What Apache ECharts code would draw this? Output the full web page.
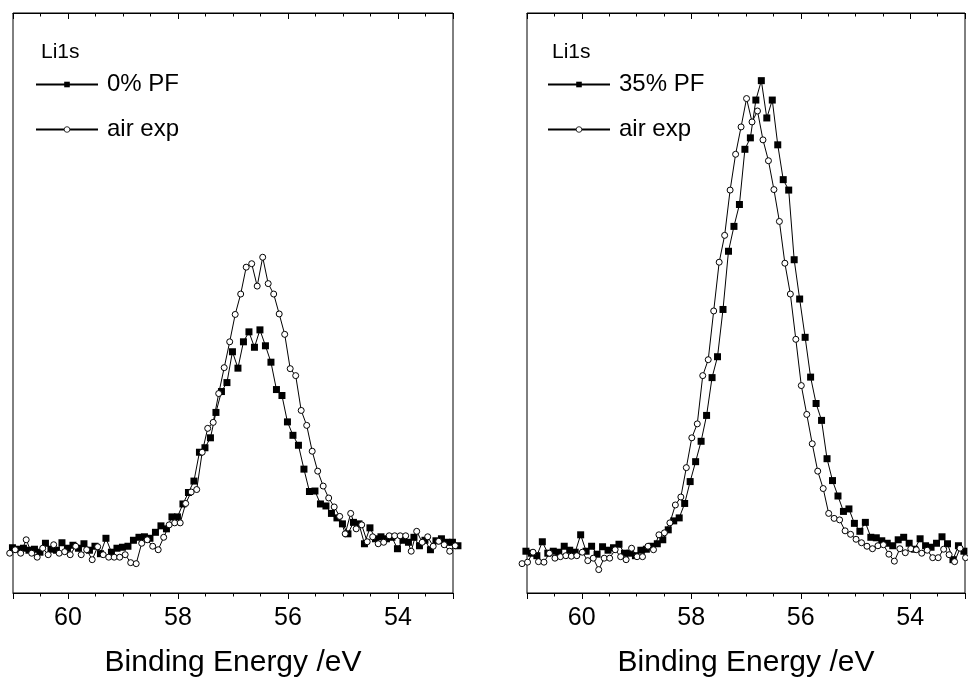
<!DOCTYPE html>
<html>
<head>
<meta charset="utf-8">
<script src="https://cdn.jsdelivr.net/npm/echarts@6/dist/echarts.min.js"></script>
<style>
  html, body { margin: 0; background: #fff; }
  #chart { width: 968px; height: 683px; }
</style>
</head>
<body>
<div id="chart"></div>
<script>
// Li1s spectra, binding energy (eV) vs intensity (a.u.)
var energyPF0 = [61.01, 60.91, 60.81, 60.71, 60.61, 60.51, 60.41, 60.31, 60.21, 60.11,
  60.01, 59.91, 59.81, 59.71, 59.61, 59.51, 59.41, 59.31, 59.21, 59.11,
  59.01, 58.91, 58.81, 58.71, 58.61, 58.51, 58.41, 58.31, 58.21, 58.11,
  58.01, 57.91, 57.81, 57.71, 57.61, 57.51, 57.41, 57.31, 57.21, 57.11,
  57.01, 56.91, 56.81, 56.71, 56.61, 56.51, 56.41, 56.31, 56.21, 56.11,
  56.01, 55.91, 55.81, 55.71, 55.61, 55.51, 55.41, 55.31, 55.21, 55.11,
  55.01, 54.91, 54.81, 54.71, 54.61, 54.51, 54.41, 54.31, 54.21, 54.11,
  54.01, 53.91, 53.81, 53.71, 53.61, 53.51, 53.41, 53.31, 53.21, 53.11,
  53.01, 52.91];
var intPF0 = [9.1, 8.8, 9.0, 8.6, 8.8, 8.2, 10.0, 8.8, 8.6, 10.1,
  9.0, 9.6, 9.0, 9.9, 8.6, 9.4, 7.9, 11.0, 8.2, 9.0,
  9.2, 9.4, 10.6, 11.2, 11.3, 11.0, 12.2, 13.5, 12.9, 15.3,
  15.3, 17.9, 20.2, 22.5, 28.3, 29.2, 31.2, 36.3, 40.5, 42.3,
  48.5, 45.2, 50.5, 52.5, 49.4, 52.9, 49.7, 46.4, 40.9, 39.7,
  34.4, 31.7, 29.7, 24.9, 20.4, 20.5, 17.9, 17.5, 16.0, 15.1,
  13.9, 11.9, 14.2, 13.9, 9.9, 13.1, 10.9, 11.3, 10.9, 11.2,
  8.9, 10.6, 10.2, 11.2, 9.5, 10.6, 8.7, 10.5, 10.9, 10.2,
  10.2, 9.5];

var energyAir0 = [61.06, 60.96, 60.86, 60.76, 60.66, 60.56, 60.46, 60.36, 60.26, 60.16,
  60.06, 59.96, 59.86, 59.76, 59.66, 59.56, 59.46, 59.36, 59.26, 59.16,
  59.06, 58.96, 58.86, 58.76, 58.66, 58.56, 58.46, 58.36, 58.26, 58.16,
  58.06, 57.96, 57.86, 57.76, 57.66, 57.56, 57.46, 57.36, 57.26, 57.16,
  57.06, 56.96, 56.86, 56.76, 56.66, 56.56, 56.46, 56.36, 56.26, 56.16,
  56.06, 55.96, 55.86, 55.76, 55.66, 55.56, 55.46, 55.36, 55.26, 55.16,
  55.06, 54.96, 54.86, 54.76, 54.66, 54.56, 54.46, 54.36, 54.26, 54.16,
  54.06, 53.96, 53.86, 53.76, 53.66, 53.56, 53.46, 53.36, 53.26, 53.16,
  53.06, 52.96];
var intAir0 = [8.0, 8.7, 8.0, 10.7, 8.0, 7.2, 9.0, 7.7, 9.7, 8.0,
  8.3, 7.7, 9.4, 7.7, 8.7, 6.7, 9.3, 7.7, 7.2, 7.2,
  7.2, 7.7, 6.1, 5.9, 10.0, 10.7, 9.4, 8.7, 11.2, 13.7,
  14.1, 14.1, 18.0, 20.3, 20.8, 28.3, 33.1, 34.3, 40.1, 45.3,
  50.5, 56.0, 60.1, 65.5, 66.2, 61.7, 67.5, 62.2, 60.1, 56.1,
  52.0, 45.1, 43.7, 36.7, 33.7, 28.5, 24.5, 21.5, 19.1, 17.3,
  15.4, 11.9, 16.0, 12.9, 13.7, 10.3, 11.3, 9.9, 10.2, 11.5,
  11.5, 11.5, 11.5, 8.4, 12.4, 10.2, 11.3, 9.4, 10.4, 9.7,
  8.4, 9.5];

var energyPF35 = [61.02, 60.92, 60.82, 60.72, 60.62, 60.52, 60.42, 60.32, 60.22, 60.12,
  60.02, 59.92, 59.82, 59.72, 59.62, 59.52, 59.42, 59.32, 59.22, 59.12,
  59.02, 58.92, 58.82, 58.72, 58.62, 58.52, 58.42, 58.32, 58.22, 58.12,
  58.02, 57.92, 57.82, 57.72, 57.62, 57.52, 57.42, 57.32, 57.22, 57.12,
  57.02, 56.92, 56.82, 56.72, 56.62, 56.52, 56.42, 56.32, 56.22, 56.12,
  56.02, 55.92, 55.82, 55.72, 55.62, 55.52, 55.42, 55.32, 55.22, 55.12,
  55.02, 54.92, 54.82, 54.72, 54.62, 54.52, 54.42, 54.32, 54.22, 54.12,
  54.02, 53.92, 53.82, 53.72, 53.62, 53.52, 53.42, 53.32, 53.22, 53.12,
  53.02];
var intPF35 = [8.4, 8.0, 7.5, 10.3, 8.0, 8.4, 8.2, 9.4, 8.6, 8.2,
  11.7, 8.4, 9.4, 7.8, 9.3, 8.6, 9.1, 9.8, 8.0, 8.0,
  7.5, 8.6, 8.8, 9.4, 9.9, 10.7, 12.7, 14.5, 15.1, 18.0,
  22.4, 26.4, 30.5, 35.7, 43.3, 47.5, 57.0, 68.7, 73.7, 78.1,
  89.2, 91.5, 99.1, 103.0, 95.5, 99.1, 90.1, 83.1, 81.0, 67.0,
  59.1, 51.4, 43.4, 38.1, 34.7, 27.0, 22.6, 19.5, 16.4, 16.9,
  14.0, 12.4, 14.2, 11.2, 11.1, 10.5, 10.0, 9.5, 10.7, 11.2,
  10.0, 8.8, 10.9, 9.5, 9.2, 10.0, 11.3, 9.9, 6.7, 9.5,
  8.4];

var energyAir35 = [61.09, 60.99, 60.89, 60.79, 60.69, 60.59, 60.49, 60.39, 60.29, 60.19,
  60.09, 59.99, 59.89, 59.79, 59.69, 59.59, 59.49, 59.39, 59.29, 59.19,
  59.09, 58.99, 58.89, 58.79, 58.69, 58.59, 58.49, 58.39, 58.29, 58.19,
  58.09, 57.99, 57.89, 57.79, 57.69, 57.59, 57.49, 57.39, 57.29, 57.19,
  57.09, 56.99, 56.89, 56.79, 56.69, 56.59, 56.49, 56.39, 56.29, 56.19,
  56.09, 55.99, 55.89, 55.79, 55.69, 55.59, 55.49, 55.39, 55.29, 55.19,
  55.09, 54.99, 54.89, 54.79, 54.69, 54.59, 54.49, 54.39, 54.29, 54.19,
  54.09, 53.99, 53.89, 53.79, 53.69, 53.59, 53.49, 53.39, 53.29, 53.19,
  53.09, 52.99];
var intAir35 = [5.9, 6.2, 8.2, 6.3, 6.2, 8.0, 7.0, 7.3, 7.5, 7.4,
  7.5, 8.2, 6.5, 7.0, 4.7, 7.0, 7.0, 8.7, 7.3, 6.7,
  9.0, 7.3, 7.3, 9.4, 8.7, 11.7, 12.1, 14.1, 17.7, 19.3,
  25.2, 31.2, 34.0, 43.7, 46.9, 56.7, 66.5, 71.9, 81.0, 88.2,
  93.7, 99.4, 94.7, 96.9, 91.1, 86.9, 81.1, 74.7, 66.3, 60.1,
  51.0, 41.7, 35.9, 30.0, 24.5, 21.0, 16.0, 15.0, 14.7, 12.5,
  11.8, 10.8, 10.1, 9.4, 8.9, 9.5, 9.7, 7.8, 6.4, 8.9,
  8.1, 8.9, 8.7, 8.0, 8.6, 7.1, 7.1, 8.8, 7.7, 6.3,
  9.0, 7.1];

var font = "'Liberation Sans', Arial, sans-serif";

function pairs(xs, ys) {
  return xs.map(function (x, i) { return [x, ys[i]]; });
}

function xAxisFor(gridIndex, top) {
  return {
    type: 'value', gridIndex: gridIndex, position: top ? 'top' : 'bottom',
    min: 53, max: 61, inverse: true,
    name: top ? '' : 'Binding Energy /eV',
    nameLocation: 'middle', nameGap: 55,
    nameTextStyle: { fontSize: 30, color: '#000', fontFamily: font },
    axisLine: { show: true, onZero: false, lineStyle: { color: '#000', width: 1 } },
    axisTick: { show: true, inside: top, length: 6, lineStyle: { color: '#000', width: 1 } },
    minorTick: { show: true, splitNumber: 4, length: 3.5, lineStyle: { color: '#000', width: 1 } },
    axisLabel: {
      show: !top, fontSize: 25, color: '#000', fontFamily: font, margin: 13,
      formatter: function (v) { return Math.round(v) === v && v % 2 === 0 ? String(v) : ''; }
    },
    splitLine: { show: false },
    minorSplitLine: { show: false }
  };
}

function yAxisFor(gridIndex) {
  return { type: 'value', gridIndex: gridIndex, min: 0, max: 116.6, show: false };
}

function squareSeries(name, data, idx) {
  return {
    type: 'line', name: name, data: data, xAxisIndex: idx * 2, yAxisIndex: idx,
    symbol: 'rect', symbolSize: 7, clip: false,
    lineStyle: { color: '#000', width: 1 },
    itemStyle: { color: '#000', borderWidth: 0 },
    emphasis: { disabled: true }
  };
}

function circleSeries(name, data, idx) {
  return {
    type: 'line', name: name, data: data, xAxisIndex: idx * 2, yAxisIndex: idx,
    symbol: 'circle', symbolSize: 6, clip: false,
    lineStyle: { color: '#000', width: 1 },
    itemStyle: { color: '#fff', borderColor: '#000', borderWidth: 1 },
    emphasis: { disabled: true }
  };
}

function legendAt(name, left, top) {
  return {
    data: [name], left: left, top: top, padding: 0, itemGap: 0,
    itemWidth: 62, itemHeight: 7, selectedMode: false,
    itemStyle: { borderWidth: 0.8 },
    textStyle: { fontSize: 24, color: '#000', fontFamily: font, lineHeight: 24, padding: [0, 0, 0, 4] }
  };
}

function titleAt(left) {
  return {
    text: 'Li1s', left: left, top: 40, padding: 0,
    textStyle: { fontSize: 21, fontWeight: 'normal', color: '#000', fontFamily: font, lineHeight: 24 }
  };
}

var chart = echarts.init(document.getElementById('chart'));
chart.setOption({
  animation: false,
  backgroundColor: '#fff',
  title: [titleAt(41), titleAt(552)],
  legend: [
    legendAt('0% PF', 35, 72.5), legendAt('air exp', 35, 117.5),
    legendAt('35% PF', 547, 72.5), legendAt('air exp', 547, 117.5)
  ],
  grid: [
    { left: 13, top: 13, width: 440, height: 583, show: true, borderColor: '#000', borderWidth: 1 },
    { left: 527, top: 13, width: 440, height: 583, show: true, borderColor: '#000', borderWidth: 1 }
  ],
  xAxis: [xAxisFor(0, false), xAxisFor(0, true), xAxisFor(1, false), xAxisFor(1, true)],
  yAxis: [yAxisFor(0), yAxisFor(1)],
  series: [
    squareSeries('0% PF', pairs(energyPF0, intPF0), 0),
    circleSeries('air exp', pairs(energyAir0, intAir0), 0),
    squareSeries('35% PF', pairs(energyPF35, intPF35), 1),
    circleSeries('air exp', pairs(energyAir35, intAir35), 1)
  ]
});
</script>
</body>
</html>
